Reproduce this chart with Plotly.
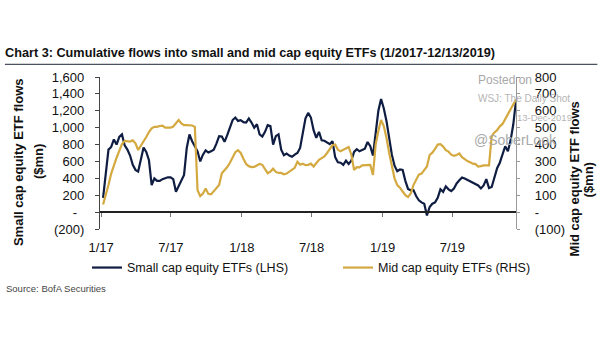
import pandas as pd
import plotly.graph_objects as go

# Weekly observations, Friday closes
weeks = pd.date_range("2017-01-06", "2019-12-13", freq="W-FRI")

# Cumulative flows, $mn
small_cap = [
    170, 480, 740, 772, 860, 800, 890, 920, 790, 740,
    670, 560, 500, 480, 630, 764, 713, 614, 320, 400,
    370, 370, 390, 404, 412, 412, 390, 240, 310, 360,
    440, 760, 920, 840, 770, 720, 600, 680, 730, 705,
    720, 740, 810, 900, 895, 832, 911, 995, 1090, 1120,
    1080, 1089, 1065, 1060, 1109, 1060, 1000, 1040, 920, 895,
    950, 1030, 1020, 800, 900, 920, 740, 673, 693, 670,
    655, 680, 701, 760, 960, 1110, 1175, 1120, 970, 880,
    950, 850, 845, 820, 805, 840, 650, 590, 585, 560,
    610, 570, 610, 713, 745, 720, 735, 750, 830, 780,
    670, 930, 1200, 1340, 1230, 1080, 870, 680, 550, 485,
    505, 500, 370, 275, 258, 260, 190, 140, 115, 99,
    -40, 60, 99, 115, 170, 270, 240, 305, 270, 250,
    280, 340, 376, 410, 398, 380, 360, 345, 330, 315,
    280, 315, 390, 285, 297, 420, 520, 585, 680, 780,
    720, 850, 1040, 1320,
]
mid_cap = [
    45, 97, 160, 228, 282, 322, 363, 403, 422, 422,
    418, 425, 407, 368, 392, 417, 445, 474, 496, 505,
    505, 510, 512, 500, 500, 500, 507, 526, 545, 525,
    515, 515, 515, 513, 505, 130, 95, 110, 140, 108,
    105, 122, 139, 160, 230, 248, 267, 292, 322, 355,
    366, 350, 316, 285, 272, 267, 268, 276, 285, 280,
    252, 230, 240, 257, 238, 232, 232, 224, 228, 238,
    248, 262, 298, 280, 286, 278, 280, 287, 270, 290,
    310, 320, 330, 350, 370, 396, 400, 370, 360, 370,
    380, 385, 340, 250, 266, 265, 277, 278, 283, 280,
    220, 400, 480, 545, 510, 440, 350, 265, 200, 160,
    145, 122, 100, 89, 110, 160, 190, 222, 228, 250,
    270, 338, 352, 375, 400, 402, 388, 367, 358, 340,
    333, 338, 347, 325, 312, 302, 295, 287, 284, 270,
    272, 277, 277, 277, 450, 472, 485, 508, 522, 552,
    578, 610, 640, 667,
]

left_ticks = [-200, 0, 200, 400, 600, 800, 1000, 1200, 1400, 1600]
left_text = ["(200)", "-\u00a0\u00a0", "200", "400", "600", "800",
             "1,000", "1,200", "1,400", "1,600"]
right_ticks = [-100, 0, 100, 200, 300, 400, 500, 600, 700, 800]
right_text = ["(100)", "-", "100", "200", "300", "400", "500", "600", "700", "800"]

NAVY = "#0f1d42"
GOLD = "#d4a940"
ARIAL = "Liberation Sans, Arial, sans-serif"

W, H = 605, 341
PL, PR, PT, PB = 100, 515.7, 76.7, 229


def fx(px):
    return (px - PL) / (PR - PL)


def fy(py):
    return (PB - py) / (PB - PT)


fig = go.Figure()
fig.add_trace(go.Scatter(
    x=weeks, y=small_cap, mode="lines", name="Small cap equity ETFs (LHS)",
    line=dict(color=NAVY, width=2.2), yaxis="y",
))
fig.add_trace(go.Scatter(
    x=weeks, y=mid_cap, mode="lines", name="Mid cap equity ETFs (RHS)",
    line=dict(color=GOLD, width=2.2), yaxis="y2",
))

bold13 = dict(family=ARIAL, size=13, color="#111", weight="bold")
annotations = [
    # axis titles
    dict(text="Small cap equity ETF flows", x=fx(18.5), y=fy(161.5), textangle=-90, font=bold13),
    dict(text="($mn)", x=fx(38), y=fy(161), textangle=-90, font=bold13),
    dict(text="Mid cap equity ETF flows", x=fx(574), y=fy(179), textangle=-90, font=bold13),
    dict(text="($mn)", x=fx(588), y=fy(180), textangle=-90, font=bold13),
    # source line
    dict(text="Source: BofA Securities", x=fx(4), y=fy(289), xanchor="left",
         font=dict(family=ARIAL, size=9.5, color="#444")),
    # watermark
    dict(text="Posted on", x=fx(476), y=fy(80), xanchor="left",
         font=dict(family=ARIAL, size=12, color="#a9a9a9")),
    dict(text="WSJ: The Daily Shot", x=fx(476), y=fy(98), xanchor="left",
         font=dict(family=ARIAL, size=10, color="#b5b5b5")),
    dict(text="13-Dec-2019", x=fx(515), y=fy(117), xanchor="left",
         font=dict(family=ARIAL, size=9.5, color="#b5b5b5")),
    dict(text="@SoberLook", x=fx(472), y=fy(140), xanchor="left",
         font=dict(family=ARIAL, size=14, color="#a9a9a9")),
]
for a in annotations:
    a.setdefault("xanchor", "center")
    a.update(xref="paper", yref="paper", yanchor="middle", showarrow=False)

fig.update_layout(
    width=W, height=H,
    margin=dict(l=PL, r=W - PR, t=PT, b=H - PB, pad=0),
    paper_bgcolor="white", plot_bgcolor="white",
    showlegend=True,
    title=dict(
        text="Chart 3: Cumulative flows into small and mid cap equity ETFs (1/2017-12/13/2019)",
        x=5 / W, xref="container", xanchor="left",
        y=1 - 53 / H, yref="container", yanchor="middle",
        font=dict(family=ARIAL, size=12.7, color="#111", weight="bold"),
    ),
    xaxis=dict(
        type="date", range=["2016-12-29", "2019-12-13"],
        anchor="free", position=200 / 1800,
        showline=True, linecolor="#222", linewidth=1.5,
        ticks="outside", ticklen=4, tickcolor="#777", tickwidth=1,
        dtick="M6", tick0="2017-01-01", tickformat="%-m/%y",
        ticklabelstandoff=20,
        tickfont=dict(family=ARIAL, size=13, color="#111"),
        showgrid=False, zeroline=False, automargin=False,
    ),
    yaxis=dict(
        range=[-200, 1600], tickvals=left_ticks, ticktext=left_text,
        showline=True, linecolor="#444", linewidth=1.3,
        ticks="outside", ticklen=4, tickcolor="#444",
        ticklabelstandoff=8,
        tickfont=dict(family=ARIAL, size=13, color="#111"),
        showgrid=False, zeroline=False, automargin=False,
    ),
    yaxis2=dict(
        range=[-100, 800], tickvals=right_ticks, ticktext=right_text,
        overlaying="y", side="right", anchor="x",
        showline=True, linecolor="#999", linewidth=1.3,
        ticks="outside", ticklen=3, tickcolor="#999",
        ticklabelstandoff=12,
        tickfont=dict(family=ARIAL, size=13, color="#111"),
        showgrid=False, zeroline=False, automargin=False,
    ),
    legend=dict(
        orientation="h", x=fx(87), xanchor="left",
        y=fy(268), yanchor="middle",
        entrywidth=206, entrywidthmode="pixels",
        font=dict(family=ARIAL, size=12.5, color="#111"),
        bgcolor="rgba(0,0,0,0)", borderwidth=0,
    ),
    annotations=annotations,
    shapes=[dict(type="line", xref="paper", yref="paper",
                 x0=fx(5), x1=fx(597), y0=fy(64), y1=fy(64),
                 line=dict(color="#4a5262", width=1.3))],
)

fig.write_html("out.html")
